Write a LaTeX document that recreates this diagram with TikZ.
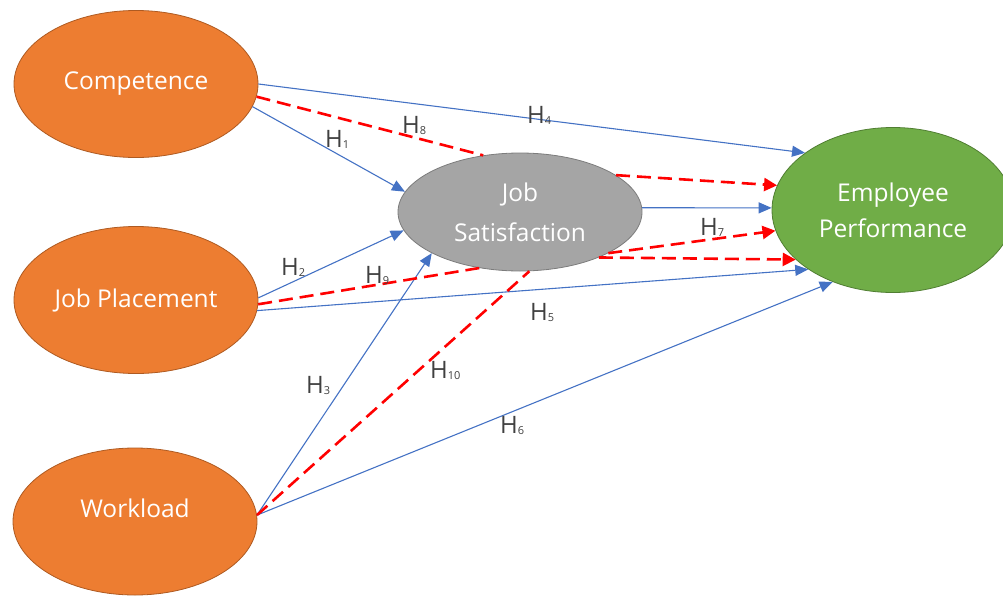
\documentclass[tikz,border=0pt]{standalone}
\usepackage{fontspec}
\setmainfont{Open Sans}
\usetikzlibrary{shapes.geometric,arrows.meta}
\definecolor{orangefill}{HTML}{ED7D31}
\definecolor{orangeline}{HTML}{AE5A21}
\definecolor{greenfill}{HTML}{70AD47}
\definecolor{greenline}{HTML}{507E32}
\definecolor{grayfill}{HTML}{A5A5A5}
\definecolor{grayline}{HTML}{7C7C7C}
\definecolor{linkblue}{HTML}{4472C4}
\definecolor{linkred}{HTML}{FF0000}
\definecolor{labelgray}{HTML}{404040}
\newcommand\Hsub[1]{H\raisebox{-1pt}{\fontsize{11}{11}\selectfont #1}}
\begin{document}
\begin{tikzpicture}[x=1pt,y=-1pt,
  var/.style={ellipse, line width=0.8pt, inner sep=0pt, text=white, align=center,
    font=\fontsize{24.5}{40}\selectfont},
  exo/.style={var, draw=orangeline, fill=orangefill, minimum width=244pt, minimum height=147pt},
  direct/.style={draw=linkblue, line width=1.1pt},
  directarrow/.style={direct, -{Triangle[length=13pt,width=11pt]}},
  mediated/.style={draw=linkred, line width=2.6pt, dash pattern=on 14pt off 7pt},
  mediatedarrow/.style={mediated, -{Triangle[length=13pt,width=13pt]}},
  hlabel/.style={anchor=base west, inner sep=0pt, text=labelgray, font=\fontsize{24}{24}\selectfont}]
\useasboundingbox (0,0) rectangle (1003,597);

% constructs
\node[exo] (comp) at (136,84) {Competence};
\node[exo] (jp) at (136,300) {Job Placement};
\node[exo] (work) at (135,521.5) {};
\node[text=white, font=\fontsize{24.5}{24.5}\selectfont] (worktext) at (135,508) {Workload};
\node[var, draw=grayline, fill=grayfill, minimum width=244pt, minimum height=118pt] (js) at (520,212) {Job\\Satisfaction};
\node[var, draw=greenline, fill=greenfill, minimum width=242pt, minimum height=165pt,
  font=\fontsize{24.5}{36}\selectfont] (ep) at (893,210) {Employee\\Performance};

% direct paths
\draw[directarrow] (comp.0) -- (ep.147.9);
\draw[directarrow] (comp.-11.2) -- (js.170.4);
\draw[directarrow] (js.2) -- (ep.179);
\draw[directarrow] (jp.1.4) -- (js.189.1);
\draw[directarrow] (jp.-5.2) -- (ep.215.2);
\draw[directarrow] (work.3.4) -- (js.205.5);
\draw[directarrow] (work.3.4) -- (ep.230.1);

% paths mediated by job satisfaction
\draw[mediated] (comp.-6.2) -- (js.123);
\draw[mediatedarrow] (js.21.7) -- (ep.168.8);
\draw[mediated] (jp.-2.4) -- (js.234.5);
\draw[mediatedarrow] (js.335.6) -- (ep.190.9);
\draw[mediated] (work.3.4) -- (js.279.8);
\draw[mediatedarrow] (js.330) -- (ep.207.5);

% hypothesis labels
\node[hlabel] (h1) at (325,147) {\Hsub{1}};
\node[hlabel] (h8) at (402,133) {\Hsub{8}};
\node[hlabel] (h4) at (527,123) {\Hsub{4}};
\node[hlabel] (h7) at (700,235) {\Hsub{7}};
\node[hlabel] (h2) at (281,275) {\Hsub{2}};
\node[hlabel] (h9) at (365,283) {\Hsub{9}};
\node[hlabel] (h5) at (530,320) {\Hsub{5}};
\node[hlabel] (h3) at (306,393) {\Hsub{3}};
\node[hlabel] (h10) at (430,378) {\Hsub{10}};
\node[hlabel] (h6) at (500,433) {\Hsub{6}};
\end{tikzpicture}
\end{document}
